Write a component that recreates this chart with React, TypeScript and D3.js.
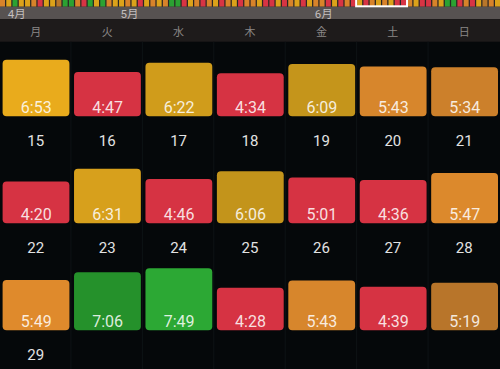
import { useEffect, useRef } from 'react';
import * as d3 from 'd3';

// weekday header
const weekdays = ['月', '火', '水', '木', '金', '土', '日'];

// sleep per day, one array per week row (h:mm)
const week1 = ['6:53', '4:47', '6:22', '4:34', '6:09', '5:43', '5:34'];
const week2 = ['4:20', '6:31', '4:46', '6:06', '5:01', '4:36', '5:47'];
const week3 = ['5:49', '7:06', '7:49', '4:28', '5:43', '4:39', '5:19'];

// date labels below each week row
const dates1 = [15, 16, 17, 18, 19, 20, 21];
const dates2 = [22, 23, 24, 25, 26, 27, 28];
const dates3 = [29];

// overview strip at the top, one level per day
// r = short, b/o = medium, y = good, g = long
const stripLevels = [
  'o', 'y', 'g', 'y', 'y', 'o', 'r', 'y', 'y', 'b', 'g', 'g', 'o', 'r', 'g', 'y', 'g', 'o', 'y', 'y',
  'o', 'y', 'r', 'y', 'o', 'y', 'o', 'g', 'g', 'r', 'y', 'o', 'r', 'o', 'y', 'r', 'o', 'y', 'r', 'o',
  'o', 'y', 'r', 'r', 'y', 'r', 'o', 'y', 'r', 'y', 'o', 'o', 'r', 'y', 'r', 'o', 'r', 'y', 'r', 'o',
  'y', 'o', 'y', 'r', 'r', 'o', 'y', 'r', 'r', 'o', 'y', 'g', 'g', 'r', 'o', 'r', 'y', 'b', 'o', 'y',
];
const monthLabels = ['4月', '5月', '6月'];
const monthStartDay = [1, 19, 50]; // index in the strip where each label sits
const highlightDays = [57, 64];

const W = 500;
const H = 369;

const toMin = (s: string) => {
  const [h, m] = s.split(':').map(Number);
  return h * 60 + m;
};

const redC = '#d63343';
const orangeScale = d3.scaleLinear<string>().domain([319, 349]).range(['#b8752a', '#df8a2c']).clamp(true);
const goldScale = d3.scaleLinear<string>().domain([366, 413]).range(['#c3941b', '#e9ab1c']).clamp(true);
const greenScale = d3.scaleLinear<string>().domain([426, 469]).range(['#25912b', '#2ca834']).clamp(true);

function barColor(min: number) {
  if (min < 305) return redC;
  if (min < 360) return orangeScale(min);
  if (min < 420) return goldScale(min);
  return greenScale(min);
}

const stripColor: Record<string, string> = {
  r: '#d83444',
  b: '#b8762a',
  o: '#d8832a',
  y: '#dca21a',
  g: '#2ba232',
};

export default function App() {
  const svgRef = useRef<SVGSVGElement>(null);

  useEffect(() => {
    document.body.style.margin = '0';
    if (!svgRef.current) return;
    const svg = d3.select(svgRef.current);
    svg.selectAll('*').remove();

    const font = 'Roboto, "Noto Sans CJK JP", sans-serif';

    svg.append('rect').attr('width', W).attr('height', H).attr('fill', '#05080a');

    // columns
    const x = d3.scaleBand<number>().domain(d3.range(7)).range([0, W]).paddingInner(0);

    // strip
    const sx = d3.scaleBand<number>().domain(d3.range(stripLevels.length)).range([0, W]).paddingInner(0.2);
    svg.append('rect').attr('x', 0).attr('y', 0).attr('width', W).attr('height', 7).attr('fill', '#2a2624');
    svg.selectAll('rect.strip')
      .data(stripLevels)
      .enter()
      .append('rect')
      .attr('class', 'strip')
      .attr('x', (_, i) => sx(i)!)
      .attr('y', 0)
      .attr('width', sx.bandwidth())
      .attr('height', 6.7)
      .attr('fill', d => stripColor[d]);

    // gray band with month labels
    svg.append('rect').attr('x', 0).attr('y', 6.7).attr('width', W).attr('height', 12.5).attr('fill', '#575251');
    monthLabels.forEach((m, i) => {
      svg.append('text')
        .attr('x', sx(monthStartDay[i])! + 1.5)
        .attr('y', 17.6)
        .attr('fill', '#c4bfbe')
        .style('font-family', font)
        .style('font-size', '11.5px')
        .text(m);
    });

    // highlight box
    const hx0 = sx(highlightDays[0])! - 1;
    const hx1 = sx(highlightDays[1])! + sx.bandwidth() + 1;
    svg.append('rect')
      .attr('x', hx0)
      .attr('y', -3)
      .attr('width', hx1 - hx0)
      .attr('height', 9.3)
      .attr('fill', 'none')
      .attr('stroke', '#ffffff')
      .attr('stroke-width', 2);

    // weekday header
    svg.append('rect').attr('x', 0).attr('y', 19.2).attr('width', W).attr('height', 22.5).attr('fill', '#1e1b1b');
    svg.selectAll('text.wd')
      .data(weekdays)
      .enter()
      .append('text')
      .attr('class', 'wd')
      .attr('x', (_, i) => x(i)! + x.bandwidth() / 2)
      .attr('y', 32.5)
      .attr('text-anchor', 'middle')
      .attr('dominant-baseline', 'central')
      .attr('fill', '#8a8786')
      .style('font-family', font)
      .style('font-size', '11px')
      .text(d => d);

    // column separators
    svg.selectAll('line.sep')
      .data(d3.range(1, 7))
      .enter()
      .append('line')
      .attr('class', 'sep')
      .attr('x1', d => x(d)! - 0.5)
      .attr('x2', d => x(d)! - 0.5)
      .attr('y1', 41.7)
      .attr('y2', H)
      .attr('stroke', '#0e1316')
      .attr('stroke-width', 1);

    const hScale = d3.scaleLinear().domain([0, 600]).range([16.2, 75]);
    const rows = [
      { vals: week1, dates: dates1, bottom: 116.3 },
      { vals: week2, dates: dates2, bottom: 223.3 },
      { vals: week3, dates: dates3, bottom: 330.3 },
    ];

    rows.forEach(row => {
      const g = svg.append('g');
      const cells = g.selectAll('g.cell')
        .data(row.vals)
        .enter()
        .append('g')
        .attr('class', 'cell');
      cells.append('rect')
        .attr('x', (_, i) => x(i)! + 2.6)
        .attr('y', d => row.bottom - hScale(toMin(d)))
        .attr('width', x.bandwidth() - 4.6)
        .attr('height', d => hScale(toMin(d)))
        .attr('rx', 4)
        .attr('fill', d => barColor(toMin(d)));
      cells.append('text')
        .attr('x', (_, i) => x(i)! + x.bandwidth() / 2 + 0.5)
        .attr('y', row.bottom - 3.8)
        .attr('text-anchor', 'middle')
        .attr('fill', '#ffffff')
        .attr('fill-opacity', 0.85)
        .style('font-family', font)
        .style('font-size', '16px')
        .text(d => d);

      g.selectAll('text.date')
        .data(row.dates)
        .enter()
        .append('text')
        .attr('class', 'date')
        .attr('x', (_, i) => x(i)! + x.bandwidth() / 2)
        .attr('y', row.bottom + 24.5)
        .attr('text-anchor', 'middle')
        .attr('dominant-baseline', 'central')
        .attr('fill', '#e2e2e2')
        .style('font-family', font)
        .style('font-size', '15px')
        .text(d => d);
    });
  }, []);

  return <svg ref={svgRef} width={W} height={H} style={{ display: 'block' }} />;
}
